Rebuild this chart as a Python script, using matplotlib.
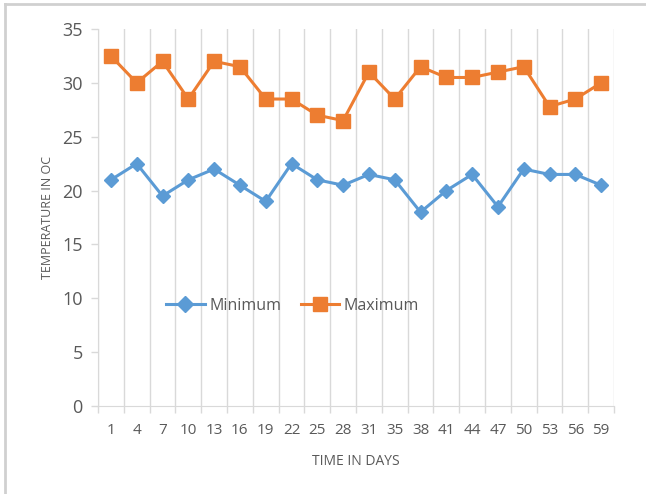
import numpy as np
import matplotlib
matplotlib.use("Agg")
import matplotlib.pyplot as plt
from matplotlib.lines import Line2D

days = [1, 4, 7, 10, 13, 16, 19, 22, 25, 28, 31, 35, 38, 41, 44, 47, 50, 53, 56, 59]
minimum = [21, 22.5, 19.5, 21, 22, 20.5, 19, 22.5, 21, 20.5,
           21.5, 21, 18, 20, 21.5, 18.5, 22, 21.5, 21.5, 20.5]
maximum = [32.5, 30, 32, 28.5, 32, 31.5, 28.5, 28.5, 27, 26.5,
           31, 28.5, 31.5, 30.5, 30.5, 31, 31.5, 27.8, 28.5, 30]

plt.rcParams['font.family'] = ['Open Sans', 'DejaVu Sans']
grey_text = "#595959"
grid_col = "#d9d9d9"

fig = plt.figure(figsize=(6.46, 4.94), dpi=100)
ax = fig.add_axes([0.1517, 0.178, 0.7988, 0.7633])

x = np.arange(len(days))
ax.plot(x, minimum, color="#5b9bd5", linewidth=2.2, marker="D",
        markersize=7, label="Minimum")
ax.plot(x, maximum, color="#ed7d31", linewidth=2.2, marker="s",
        markersize=9.5, label="Maximum")

ax.set_xlim(-0.5, len(days) - 0.5)
ax.set_ylim(0, 35)
ax.set_yticks(range(0, 36, 5))

# category labels in the middle, ticks and grid on the boundaries
ax.set_xticks(x)
ax.set_xticklabels([str(d) for d in days])
ax.set_xticks(np.arange(-0.5, len(days), 1), minor=True)
ax.tick_params(axis="x", which="major", length=0, pad=12,
               labelsize=11, labelcolor=grey_text)
ax.tick_params(axis="x", which="minor", length=5, color=grid_col, width=1)
ax.tick_params(axis="y", length=5, color=grid_col, width=1, pad=6,
               labelsize=13, labelcolor=grey_text)
ax.grid(axis="x", which="minor", color=grid_col, linewidth=1)
ax.grid(axis="x", which="major", visible=False)

for side in ["top", "right"]:
    ax.spines[side].set_visible(False)
ax.spines["left"].set_color(grid_col)
ax.spines["bottom"].set_color(grid_col)

ax.set_xlabel("TIME IN DAYS", fontsize=10, color=grey_text, labelpad=12)
ax.set_ylabel("TEMPERATURE IN OC", fontsize=9, color=grey_text, labelpad=6)

leg = fig.legend(loc="center", bbox_to_anchor=(0.453, 0.381), ncol=2,
                 frameon=False, fontsize=11.5, handlelength=2.4,
                 columnspacing=1.2, handletextpad=0.3, markerscale=1.1)
for t in leg.get_texts():
    t.set_color(grey_text)

# outer frame (top and left edges)
fig.add_artist(Line2D([0.008, 0.008], [0.0, 0.992], color="#d0d0d0",
                      linewidth=2, transform=fig.transFigure))
fig.add_artist(Line2D([0.008, 1.0], [0.992, 0.992], color="#d0d0d0",
                      linewidth=2, transform=fig.transFigure))

fig.savefig("out.png", dpi=100)
